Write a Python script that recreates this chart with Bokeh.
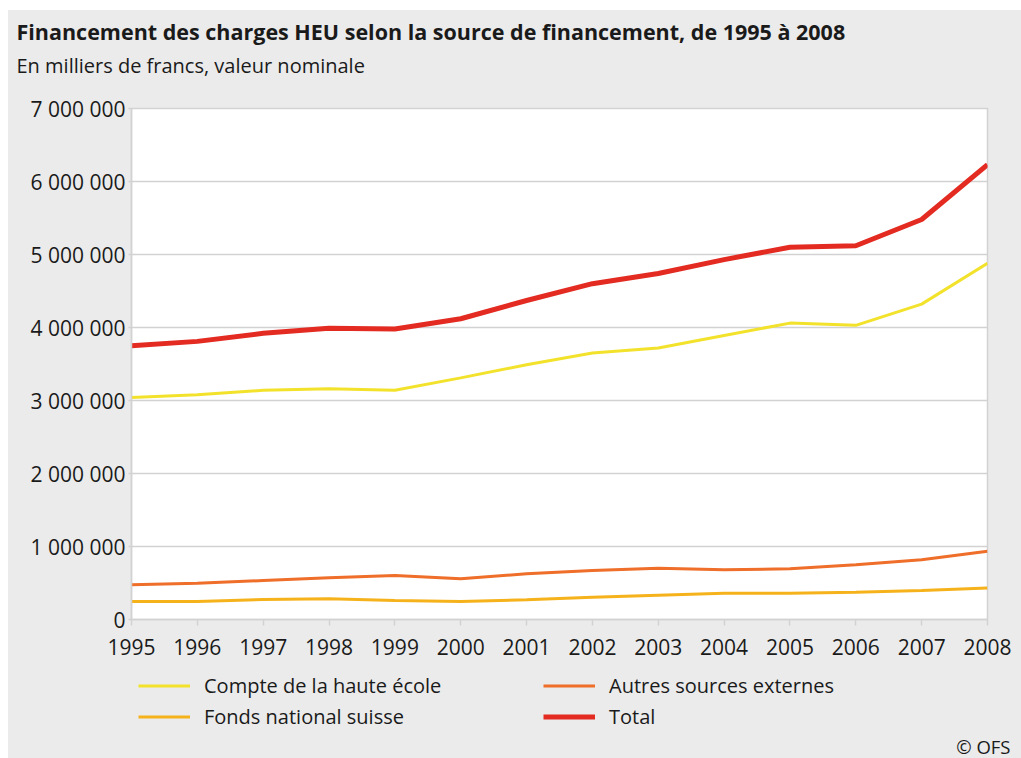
from bokeh.plotting import figure
from bokeh.models import Legend, LegendItem, Title, FixedTicker, Range1d
from bokeh.layouts import column
from bokeh.embed import file_html
from bokeh.resources import INLINE

years = list(range(1995, 2009))
compte = [3.04e6, 3.08e6, 3.14e6, 3.16e6, 3.14e6, 3.31e6, 3.49e6, 3.65e6, 3.72e6, 3.89e6, 4.06e6, 4.03e6, 4.32e6, 4.88e6]
autres = [0.475e6, 0.497e6, 0.534e6, 0.571e6, 0.603e6, 0.557e6, 0.626e6, 0.671e6, 0.703e6, 0.680e6, 0.694e6, 0.749e6, 0.817e6, 0.936e6]
fonds = [0.247e6, 0.247e6, 0.274e6, 0.283e6, 0.260e6, 0.247e6, 0.270e6, 0.305e6, 0.333e6, 0.360e6, 0.360e6, 0.374e6, 0.397e6, 0.432e6]
total = [3.75e6, 3.81e6, 3.92e6, 3.99e6, 3.98e6, 4.12e6, 4.37e6, 4.60e6, 4.74e6, 4.93e6, 5.10e6, 5.12e6, 5.48e6, 6.23e6]

y_ticks = [0, 1e6, 2e6, 3e6, 4e6, 5e6, 6e6, 7e6]
y_tick_labels = ["0", "1 000 000", "2 000 000", "3 000 000", "4 000 000", "5 000 000", "6 000 000", "7 000 000"]

series_names = ["Compte de la haute école", "Autres sources externes", "Fonds national suisse", "Total"]
series_values = [compte, autres, fonds, total]
series_colors = ["#f3e22b", "#ee6e2a", "#f6b21b", "#e32b22"]
series_widths = [3, 3, 3, 5]

title_text = "Financement des charges HEU selon la source de financement, de 1995 à 2008"
subtitle_text = "En milliers de francs, valeur nominale"
source_text = "© OFS"

FONT = "Open Sans"
BG = "#ebebeb"
GRID = "#d2d2d2"
TXT = "#1a1a1a"

W = 1013
ML, MR = 123, 34


def strip(height, top, bottom):
    f = figure(width=W, height=height, output_backend="svg", toolbar_location=None,
               x_range=Range1d(1995, 2008), y_range=Range1d(0, 7e6),
               x_axis_location=None, y_axis_location=None, title=None,
               min_border_left=ML, min_border_right=MR, min_border_top=top, min_border_bottom=bottom,
               background_fill_color=None, border_fill_color=BG, outline_line_color=None)
    f.grid.visible = False
    return f


# ---- header strip (title + subtitle) ----
p0 = strip(83, 72, 0)
p0.add_layout(Title(text=subtitle_text, align="left", offset=-115, standoff=7.5,
                    text_font=FONT, text_font_style="normal", text_font_size="20px",
                    text_color=TXT), "above")
p0.add_layout(Title(text=title_text, align="left", offset=-115, standoff=0,
                    text_font=FONT, text_font_style="bold", text_font_size="21.5px",
                    text_color=TXT), "above")

# ---- main chart ----
p = figure(width=W, height=577, output_backend="svg", toolbar_location=None, title=None,
           x_range=Range1d(1995, 2008), y_range=Range1d(0, 7e6),
           min_border_left=ML, min_border_right=MR, min_border_top=15, min_border_bottom=51,
           background_fill_color="white", border_fill_color=BG)
p.outline_line_color = GRID
p.outline_line_width = 1.5

p.xgrid.visible = False
p.ygrid.grid_line_color = GRID
p.ygrid.grid_line_width = 1.5

p.xaxis.ticker = FixedTicker(ticks=years)
p.yaxis.ticker = FixedTicker(ticks=y_ticks)
p.yaxis.major_label_overrides = {t: l for t, l in zip(y_ticks, y_tick_labels)}
for ax in (p.xaxis, p.yaxis):
    ax.axis_line_color = GRID
    ax.axis_line_width = 1.5
    ax.major_tick_line_color = GRID
    ax.major_tick_line_width = 1.5
    ax.minor_tick_line_color = None
    ax.major_tick_in = 0
    ax.major_label_text_font = FONT
    ax.major_label_text_font_size = "21px"
    ax.major_label_text_color = TXT
p.xaxis.major_tick_out = 6
p.yaxis.major_tick_out = 3
p.xaxis.major_label_standoff = 13
p.yaxis.major_label_standoff = 3

for vals, col, w in zip(series_values, series_colors, series_widths):
    p.line(years, vals, line_color=col, line_width=w)

# ---- legend strip ----
p2 = strip(88, 0, 24)
items = []
for name, vals, col, w in zip(series_names, series_values, series_colors, series_widths):
    r = p2.line(years, vals, line_color=col, line_width=w, visible=False)
    items.append(LegendItem(label=name, renderers=[r]))

legend = Legend(items=items, orientation="horizontal", ncols=2, location=(7, 0),
                padding=0, margin=0, spacing=2, glyph_width=52, glyph_height=29,
                label_height=29, label_width=337, label_standoff=14, border_line_color=None,
                background_fill_alpha=0, label_text_font=FONT,
                label_text_font_size="20px", label_text_color=TXT)
p2.add_layout(legend, "center")

p2.add_layout(Title(text=source_text, align="right", offset=-23, standoff=0,
                    text_font=FONT, text_font_style="normal", text_font_size="18.5px",
                    text_color=TXT), "below")

layout = column(p0, p, p2, spacing=0, margin=(10, 0, 0, 8), styles={"background-color": BG})
open("out.html", "w").write(file_html(layout, INLINE))
